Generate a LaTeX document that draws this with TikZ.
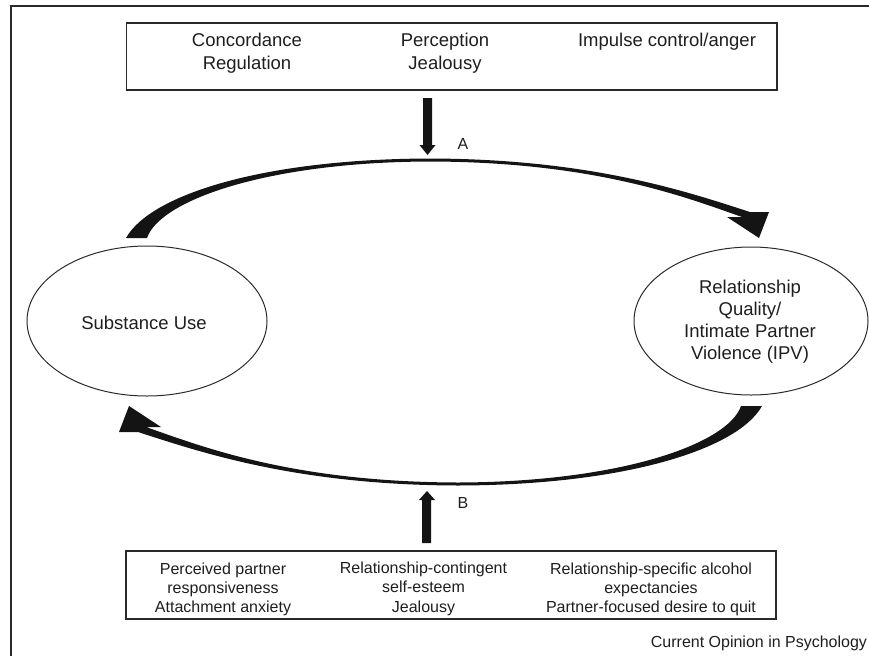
\documentclass[tikz,border=0pt]{standalone}
\usepackage{fontspec}
\setmainfont{Liberation Sans}
\usetikzlibrary{shapes.geometric}
\definecolor{ink}{HTML}{1e1e1e}
\definecolor{linec}{HTML}{2a2a2a}
\begin{document}
\begin{tikzpicture}[x=1pt,y=-1pt,
  every node/.style={text=ink, inner sep=0pt, outer sep=0pt},
  bigtxt/.style={anchor=base, font=\fontsize{18.5}{22}\selectfont},
  smalltxt/.style={anchor=base, font=\fontsize{16}{19}\selectfont},
  boxframe/.style={draw=linec, line width=1.5pt, rectangle, inner sep=0pt},
  oval/.style={draw=linec, line width=1pt, ellipse, inner sep=0pt},
  thickarrow/.style={fill=black!92, draw=none}]
\useasboundingbox (0,0) rectangle (869,656);
% frame (left and top lines only)
\draw[linec, line width=2pt] (11,656) -- (11,6) -- (869,6);

% boxes
\node[boxframe, minimum width=650.5pt, minimum height=67pt] (topbox) at (451.75,56.5) {};
\node[boxframe, minimum width=650pt, minimum height=68pt] (botbox) at (451,585) {};

% top box texts
\node[bigtxt] (t1a) at (247,46.5) {Concordance};
\node[bigtxt] (t1b) at (247,69) {Regulation};
\node[bigtxt] (t2a) at (445,46.5) {Perception};
\node[bigtxt] (t2b) at (445,69) {Jealousy};
\node[bigtxt] (t3a) at (667,46.5) {Impulse control/anger};

% bottom box texts
\node[smalltxt] (b1a) at (223,574) {Perceived partner};
\node[smalltxt] (b1b) at (223,593) {responsiveness};
\node[smalltxt] (b1c) at (223,612) {Attachment anxiety};
\node[smalltxt] (b2a) at (423.5,573) {Relationship-contingent};
\node[smalltxt] (b2b) at (423.5,592.5) {self-esteem};
\node[smalltxt] (b2c) at (423.5,612) {Jealousy};
\node[smalltxt] (b3a) at (651,574) {Relationship-specific alcohol};
\node[smalltxt] (b3b) at (651,593) {expectancies};
\node[smalltxt] (b3c) at (651,612) {Partner-focused desire to quit};

% ellipses
\node[oval, minimum width=240pt, minimum height=150pt] (su) at (147,321) {};
\node[oval, minimum width=234pt, minimum height=148pt] (rq) at (751,321) {};
\node[bigtxt] (sutxt) at (144,329.6) {Substance Use};
\node[bigtxt] (rq1) at (750,293.6) {Relationship};
\node[bigtxt] (rq2) at (750,315.6) {Quality/};
\node[bigtxt] (rq3) at (750,337.6) {Intimate Partner};
\node[bigtxt] (rq4) at (750,359.6) {Violence (IPV)};

% labels A and B
\node[smalltxt] (la) at (463,149.7) {A};
\node[smalltxt] (lb) at (463,508.7) {B};

% caption
\node[smalltxt, anchor=base east] (cap) at (867,647) {Current Opinion in Psychology};

% straight arrows A and B
\fill[thickarrow] (423,98) -- (432,98) -- (432,145) -- (435.5,145) -- (427.5,155) -- (419.5,145) -- (423,145) -- cycle;
\fill[thickarrow] (422,543) -- (431,543) -- (431,500) -- (435,500) -- (427,491) -- (419,500) -- (422,500) -- cycle;

% curved arrows
\def\arcshape{(126,238) .. controls (150,195) and (262,159) .. (430,158.5)
  .. controls (592,159) and (688,192) .. (750,212)
  -- (769,212) -- (759,238) -- (727,217) -- (742,217)
  .. controls (685,197) and (595,162) .. (430,161.5)
  .. controls (268,162) and (160,200) .. (147,238) -- cycle}
\fill[thickarrow] \arcshape;
\fill[thickarrow, rotate around={180:(444,322)}] \arcshape;
\end{tikzpicture}
\end{document}
